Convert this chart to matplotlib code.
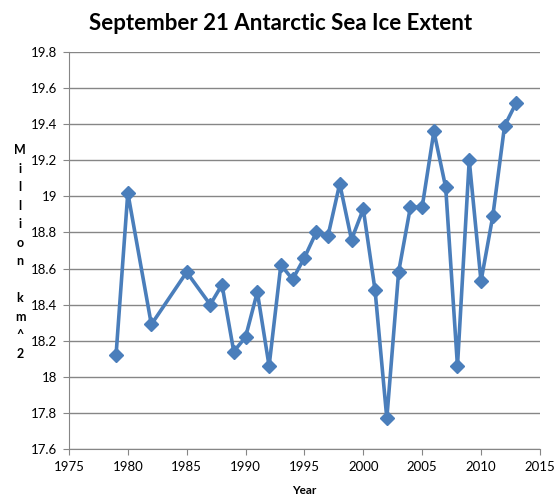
import matplotlib
matplotlib.use("Agg")
import matplotlib.pyplot as plt

years = [1979, 1980, 1982, 1985, 1987, 1988, 1989, 1990, 1991, 1992,
         1993, 1994, 1995, 1996, 1997, 1998, 1999, 2000, 2001, 2002,
         2003, 2004, 2005, 2006, 2007, 2008, 2009, 2010, 2011, 2012, 2013]
extent = [18.12, 19.02, 18.29, 18.58, 18.40, 18.51, 18.14, 18.22, 18.47, 18.06,
          18.62, 18.54, 18.66, 18.80, 18.78, 19.07, 18.76, 18.93, 18.48, 17.77,
          18.58, 18.94, 18.94, 19.36, 19.05, 18.06, 19.20, 18.53, 18.89, 19.39, 19.52]
x_ticks = list(range(1975, 2016, 5))
y_ticks = [17.6, 17.8, 18.0, 18.2, 18.4, 18.6, 18.8, 19.0, 19.2, 19.4, 19.6, 19.8]
y_labels = ['17.6', '17.8', '18', '18.2', '18.4', '18.6', '18.8', '19', '19.2', '19.4', '19.6', '19.8']

plt.rcParams['font.family'] = ['Lato', 'DejaVu Sans']
grey = '#868686'

fig = plt.figure(figsize=(5.56, 5.03), dpi=100)
ax = fig.add_axes([0.124, 0.1074, 0.847, 0.7892])

ax.plot(years, extent, color='#4a7ebb', lw=2.6, marker='D', markersize=7,
        markeredgecolor='#4a7ebb', zorder=3)

ax.set_xlim(1975, 2015)
ax.set_ylim(17.6, 19.8)
ax.set_xticks(x_ticks)
ax.set_yticks(y_ticks)
ax.set_yticklabels(y_labels)
ax.grid(axis='y', color=grey, lw=1)
ax.set_axisbelow(True)
for side in ['top', 'right']:
    ax.spines[side].set_visible(False)
for side in ['left', 'bottom']:
    ax.spines[side].set_color(grey)
ax.tick_params(axis='both', direction='out', length=4.5, color=grey,
               labelsize=9.5, pad=4)

fig.text(0.505, 1 - 23 / 503, 'September 21 Antarctic Sea Ice Extent',
         ha='center', va='center', fontsize=16, fontweight='bold')
fig.text(304 / 556, 1 - 490 / 503, 'Year', ha='center', va='center',
         fontsize=8.5, fontweight='bold')
fig.text(20 / 556, 1 - 252 / 503, 'M\ni\nl\nl\ni\no\nn\n\nk\nm\n^\n2',
         ha='center', va='center', fontsize=9, fontweight='bold',
         linespacing=1.65)

fig.savefig('out.png', dpi=100)
